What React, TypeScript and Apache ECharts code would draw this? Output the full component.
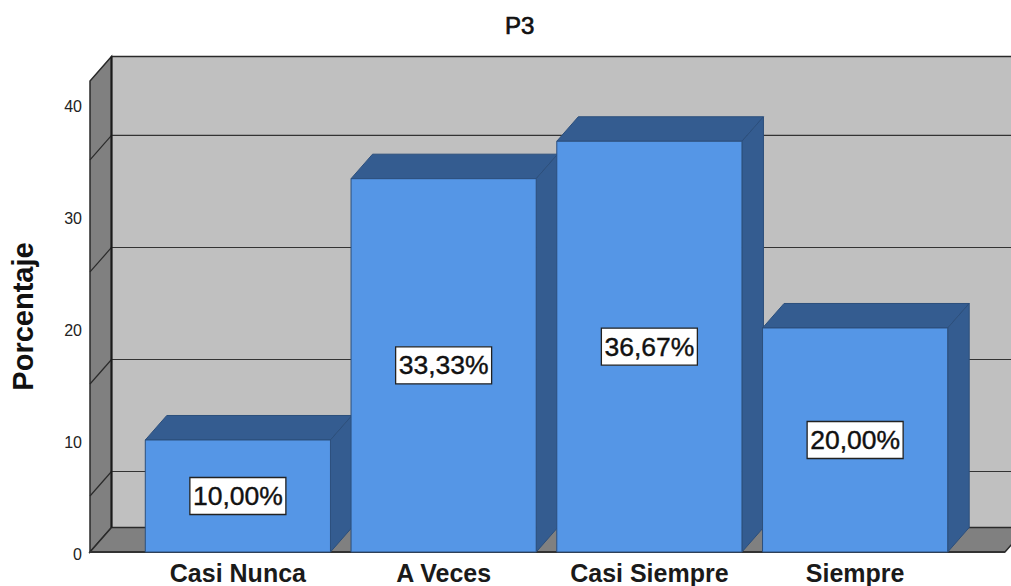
import React, { useEffect, useRef } from "react";
import * as echarts from "echarts";

const categories = ["Casi Nunca", "A Veces", "Casi Siempre", "Siempre"];
const percentages = [10.0, 33.33, 36.67, 20.0];
const percentLabels = ["10,00%", "33,33%", "36,67%", "20,00%"];
const wallLines = [5, 15, 25, 35];
const yMax = 42.05;

const DX = 21.5;
const DY = -24.5;
const FRONT = "#5596e6";
const DARK = "#345c90";
const EDGE = "#2c4f7c";
const WALL = "#c0c0c0";
const SIDE = "#808080";
const INK = "#2a2a2a";
const FONT = "'Liberation Sans', Arial, sans-serif";

export default function App() {
  const ref = useRef<HTMLDivElement>(null);
  useEffect(() => {
    const chart = echarts.init(ref.current!, undefined, { renderer: "svg" });
    chart.setOption({
      animation: false,
      backgroundColor: "#ffffff",
      title: {
        text: "P3",
        left: 505,
        top: 13,
        padding: 0,
        textStyle: {
          fontFamily: FONT,
          fontSize: 24,
          fontWeight: "normal",
          color: "#111",
          textBorderColor: "#111",
          textBorderWidth: 0.7,
        },
      },
      grid: { left: 135, width: 823, top: 81, bottom: 34, outerBoundsMode: "none" },
      xAxis: {
        type: "category",
        data: categories,
        axisLine: { show: false },
        axisTick: { show: false },
        axisLabel: {
          margin: 8,
          fontFamily: FONT,
          fontSize: 25,
          fontWeight: "bold",
          color: "#1a1a1a",
          interval: 0,
        },
      },
      yAxis: {
        type: "value",
        min: 0,
        max: yMax,
        interval: 10,
        offset: 45,
        name: "Porcentaje",
        nameLocation: "middle",
        nameGap: 53,
        nameTextStyle: { fontFamily: FONT, fontSize: 29, fontWeight: "bold", color: "#111" },
        axisLine: { show: false },
        axisTick: { show: false },
        splitLine: { show: false },
        axisLabel: {
          showMaxLabel: false,
          margin: 8,
          formatter: "{t|{value}}",
          rich: {
            t: {
              fontFamily: FONT,
              fontSize: 16,
              color: "#222",
              padding: [5, 0, 0, 0],
            },
          },
        },
      },
      series: [
        {
          type: "custom",
          clip: false,
          z: 1,
          silent: true,
          data: [[0, 0]],
          encode: { x: 0, y: 1 },
          renderItem: (params: any, api: any) => {
            const cs = params.coordSys;
            const fl = cs.x - 45;
            const fr = cs.x + cs.width + 47;
            const yb = api.coord([0, 0])[1];
            const yt = api.coord([0, yMax])[1];
            const bl = fl + DX;
            const br = fr + DX;
            const children: any[] = [
              { type: "rect", shape: { x: bl, y: yt + DY, width: br - bl, height: yb - yt }, style: { fill: WALL } },
              {
                type: "polygon",
                shape: { points: [[fl, yb], [bl, yb + DY], [bl, yt + DY], [fl, yt]] },
                style: { fill: SIDE, stroke: INK, lineWidth: 1.5 },
              },
              {
                type: "polygon",
                shape: { points: [[fl, yb], [bl, yb + DY], [br, yb + DY], [fr, yb]] },
                style: { fill: SIDE, stroke: INK, lineWidth: 1.5 },
              },
            ];
            wallLines.forEach((v) => {
              const y = api.coord([0, v])[1];
              children.push({
                type: "line",
                shape: { x1: fl, y1: y, x2: bl, y2: y + DY },
                style: { stroke: INK, lineWidth: 1.2 },
              });
              children.push({
                type: "line",
                shape: { x1: bl, y1: y + DY, x2: br, y2: y + DY },
                style: { stroke: "#333", lineWidth: 1.2 },
              });
            });
            children.push({
              type: "line",
              shape: { x1: bl, y1: yt + DY, x2: br, y2: yt + DY },
              style: { stroke: INK, lineWidth: 1.5 },
            });
            children.push({
              type: "line",
              shape: { x1: bl, y1: yt + DY, x2: bl, y2: yb + DY },
              style: { stroke: "#1a1a1a", lineWidth: 2 },
            });
            children.push({
              type: "line",
              shape: { x1: fl, y1: yb, x2: fr, y2: yb },
              style: { stroke: "#333", lineWidth: 2 },
            });
            return { type: "group", children };
          },
        },
        {
          type: "custom",
          clip: false,
          z: 2,
          data: percentages.map((v, i) => [i, v]),
          encode: { x: 0, y: 1 },
          renderItem: (params: any, api: any) => {
            const i = api.value(0);
            const top = api.coord([i, api.value(1)]);
            const base = api.coord([i, 0]);
            const w = api.size([1, 0])[0] * 0.9;
            const x0 = top[0] - w / 2;
            const x1 = top[0] + w / 2;
            const y0 = top[1];
            const y1 = base[1];
            const my = (y0 + y1) / 2;
            const edge = { stroke: EDGE, lineWidth: 1 };
            return {
              type: "group",
              children: [
                {
                  type: "polygon",
                  shape: { points: [[x0, y0], [x0 + DX, y0 + DY], [x1 + DX, y0 + DY], [x1, y0]] },
                  style: { fill: DARK, ...edge },
                },
                {
                  type: "polygon",
                  shape: { points: [[x1, y0], [x1 + DX, y0 + DY], [x1 + DX, y1 + DY], [x1, y1]] },
                  style: { fill: DARK, ...edge },
                },
                {
                  type: "rect",
                  shape: { x: x0, y: y0, width: w, height: y1 - y0 },
                  style: { fill: FRONT, ...edge },
                },
                {
                  type: "rect",
                  shape: { x: top[0] - 48, y: my - 18.5, width: 96, height: 37 },
                  style: { fill: "#ffffff", stroke: "#222", lineWidth: 1.3 },
                },
                {
                  type: "text",
                  style: {
                    text: percentLabels[i],
                    x: top[0],
                    y: my,
                    align: "center",
                    verticalAlign: "middle",
                    fill: "#111",
                    stroke: "#111",
                    lineWidth: 0.4,
                    font: `26.5px ${FONT}`,
                  },
                },
              ],
            };
          },
        },
      ],
    });
    return () => chart.dispose();
  }, []);
  return <div ref={ref} style={{ position: "absolute", left: 0, top: 0, width: 1011, height: 586 }} />;
}
